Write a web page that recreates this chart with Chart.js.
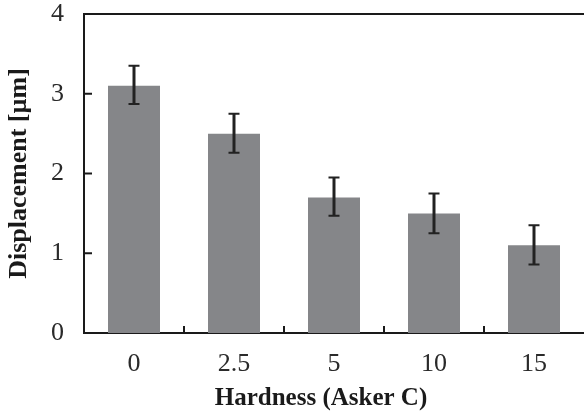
<!DOCTYPE html>
<html>
<head>
<meta charset="utf-8">
<script src="https://cdn.jsdelivr.net/npm/chart.js@4"></script>
<style>
    html, body { margin: 0; padding: 0; background: #fff; }
    #wrap { width: 584px; height: 416px; }
</style>
</head>
<body>
<div id="wrap"><canvas id="hardnessChart" width="584" height="416"></canvas></div>
<script>
const hardness = ['0', '2.5', '5', '10', '15'];
const displacement = [3.1, 2.5, 1.7, 1.5, 1.1];
const errorUp = [0.25, 0.25, 0.25, 0.25, 0.25];
const errorDown = [0.23, 0.24, 0.23, 0.25, 0.24];
const yTicks = [0, 1, 2, 3, 4];
const xTitle = 'Hardness (Asker C)';
const yTitle = 'Displacement [µm]';

const axisColor = '#1a1a1a';
const textColor = '#2a2a2a';
const serif = '"Liberation Serif", "Times New Roman", serif';

// error bars, inner tick marks, top frame line and x title
const decorPlugin = {
    id: 'decor',
    afterDatasetsDraw(chart) {
        const ctx = chart.ctx;
        const x = chart.scales.x;
        const y = chart.scales.y;
        const area = chart.chartArea;
        ctx.save();

        ctx.strokeStyle = axisColor;
        ctx.lineWidth = 2;
        ctx.beginPath();
        ctx.moveTo(area.left, area.top);
        ctx.lineTo(area.right, area.top);
        ctx.stroke();

        yTicks.forEach(v => {
            const py = y.getPixelForValue(v);
            ctx.beginPath();
            ctx.moveTo(area.left, py);
            ctx.lineTo(area.left + 8, py);
            ctx.stroke();
        });

        for (let i = 1; i < hardness.length; i++) {
            const px = (x.getPixelForValue(i - 1) + x.getPixelForValue(i)) / 2;
            ctx.beginPath();
            ctx.moveTo(px, area.bottom);
            ctx.lineTo(px, area.bottom - 7);
            ctx.stroke();
        }

        ctx.strokeStyle = '#222';
        displacement.forEach((v, i) => {
            const px = x.getPixelForValue(i);
            const top = y.getPixelForValue(v + errorUp[i]);
            const bot = y.getPixelForValue(v - errorDown[i]);
            ctx.lineWidth = 3;
            ctx.beginPath();
            ctx.moveTo(px, top);
            ctx.lineTo(px, bot);
            ctx.stroke();
            ctx.lineWidth = 2;
            ctx.beginPath();
            ctx.moveTo(px - 5.5, top);
            ctx.lineTo(px + 5.5, top);
            ctx.moveTo(px - 5.5, bot);
            ctx.lineTo(px + 5.5, bot);
            ctx.stroke();
        });

        // x title sits a little left of the plot centre in the original
        ctx.fillStyle = '#1a1a1a';
        ctx.font = 'bold 25px ' + serif;
        ctx.textAlign = 'center';
        ctx.textBaseline = 'middle';
        ctx.fillText(xTitle, (area.left + area.right) / 2 - 13, area.bottom + 66);
        ctx.restore();
    }
};

const ctx = document.getElementById('hardnessChart').getContext('2d');
new Chart(ctx, {
    type: 'bar',
    data: {
        labels: hardness,
        datasets: [{
            data: displacement,
            backgroundColor: '#858689',
            borderWidth: 0,
            barPercentage: 0.52,
            categoryPercentage: 1.0
        }]
    },
    options: {
        responsive: false,
        animation: false,
        events: [],
        layout: { padding: { top: 14, right: 0, left: 0, bottom: 0 } },
        plugins: {
            legend: { display: false },
            tooltip: { enabled: false }
        },
        scales: {
            x: {
                grid: { display: false, drawTicks: false },
                border: { display: true, color: axisColor, width: 2 },
                ticks: {
                    color: textColor,
                    font: { family: serif, size: 26 },
                    padding: 16
                },
                afterFit(scale) {
                    scale.height = 83;
                    scale.paddingLeft = 0;
                    scale.paddingRight = 0;
                }
            },
            y: {
                min: 0,
                max: 4,
                afterBuildTicks(scale) { scale.ticks = yTicks.map(v => ({ value: v })); },
                grid: { display: false, drawTicks: false },
                border: { display: true, color: axisColor, width: 2 },
                ticks: {
                    color: textColor,
                    font: { family: serif, size: 26 },
                    padding: 20
                },
                title: {
                    display: true,
                    text: yTitle,
                    color: '#1a1a1a',
                    font: { family: serif, size: 26, weight: 'bold' },
                    padding: { top: 4, bottom: 0 }
                },
                afterFit(scale) {
                    scale.width = 84;
                    scale.paddingTop = 0;
                    scale.paddingBottom = 0;
                }
            }
        }
    },
    plugins: [decorPlugin]
});
</script>
</body>
</html>
